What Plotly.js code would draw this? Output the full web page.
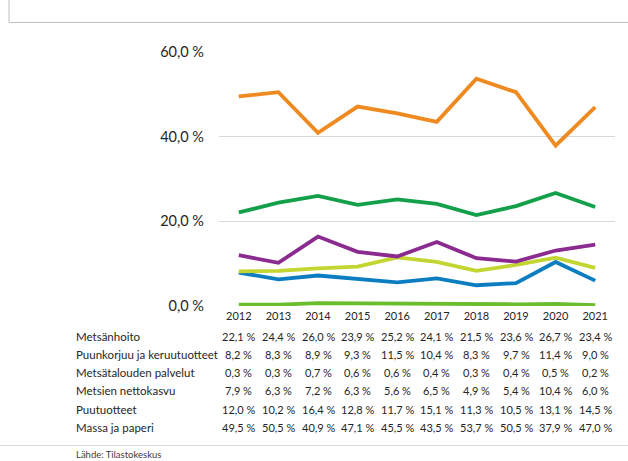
<!DOCTYPE html>
<html>
<head>
<meta charset="utf-8">
<script src="https://cdn.plot.ly/plotly-3.0.1.min.js"></script>
<style>
html,body{margin:0;padding:0;background:#fff;}
#chart{width:628px;height:461px;}
</style>
</head>
<body>
<div id="chart"></div>
<script>
// ---- data ----
var years = [2012,2013,2014,2015,2016,2017,2018,2019,2020,2021];
var yearLabels = ["2012","2013","2014","2015","2016","2017","2018","2019","2020","2021"];
var seriesNames = ["Metsänhoito","Puunkorjuu ja keruutuotteet","Metsätalouden palvelut","Metsien nettokasvu","Puutuotteet","Massa ja paperi"];
var metsanhoito = [22.1,24.4,26.0,23.9,25.2,24.1,21.5,23.6,26.7,23.4];
var puunkorjuu = [8.2,8.3,8.9,9.3,11.5,10.4,8.3,9.7,11.4,9.0];
var palvelut = [0.3,0.3,0.7,0.6,0.6,0.4,0.3,0.4,0.5,0.2];
var nettokasvu = [7.9,6.3,7.2,6.3,5.6,6.5,4.9,5.4,10.4,6.0];
var puutuotteet = [12.0,10.2,16.4,12.8,11.7,15.1,11.3,10.5,13.1,14.5];
var massa = [49.5,50.5,40.9,47.1,45.5,43.5,53.7,50.5,37.9,47.0];
var yTickVals = [0,20,40,60];
var yTickText = ["0,0 %","20,0 %","40,0 %","60,0 %"];
var sourceText = "Lähde: Tilastokeskus";

// ---- styling ----
var seriesValues = [metsanhoito,puunkorjuu,palvelut,nettokasvu,puutuotteet,massa];
var colors = ["#14A04A","#C3D530","#6ABE2E","#0C7DC1","#8B2A8F","#EE8A1F"];
var drawOrder = [2,3,1,4,0,5];

var W = 628, H = 461;
var L = 219, R = 13, T = 52, B = 155;
var plotW = W - L - R, plotH = H - T - B;
function px2paperX(px){ return (px - L) / plotW; }
function px2paperY(py){ return (H - B - py) / plotH; }
function fmt(v){ return v.toFixed(1).replace('.', ',') + ' %'; }

var traces = drawOrder.map(function(i){
  return {
    type:'scatter', mode:'lines', name: seriesNames[i],
    x: years, y: seriesValues[i],
    line:{color: colors[i], width:3.8},
    hoverinfo:'skip', cliponaxis:false
  };
});

var fontFam = 'Lato, "Open Sans", sans-serif';
var annotations = [];
var rowY = [336, 354.3, 372.6, 390.9, 409.2, 427.5];
seriesNames.forEach(function(name, r){
  annotations.push({
    xref:'paper', yref:'paper', x: px2paperX(74), y: px2paperY(rowY[r]),
    xanchor:'left', yanchor:'middle', text: name, showarrow:false,
    font:{family: fontFam, size: 11.5, color:'#262626'}
  });
  years.forEach(function(yr, c){
    annotations.push({
      xref:'x', yref:'paper', x: yr, y: px2paperY(rowY[r]),
      xanchor:'center', yanchor:'middle', text: fmt(seriesValues[r][c]), showarrow:false,
      font:{family: fontFam, size: 11, color:'#262626'}
    });
  });
});
annotations.push({
  xref:'paper', yref:'paper', x: px2paperX(74), y: px2paperY(447),
  xanchor:'left', yanchor:'top', text: sourceText, showarrow:false,
  font:{family: fontFam, size: 9.5, color:'#404040'}
});

var shapes = [
  {type:'line', xref:'paper', yref:'paper', x0: px2paperX(9), x1: px2paperX(628), y0: px2paperY(22.5), y1: px2paperY(22.5), line:{color:'#BFBFBF', width:1}},
  {type:'line', xref:'paper', yref:'paper', x0: px2paperX(9), x1: px2paperX(9), y0: px2paperY(0), y1: px2paperY(22.5), line:{color:'#BFBFBF', width:1}},
  {type:'line', xref:'paper', yref:'paper', x0: px2paperX(0), x1: px2paperX(628), y0: px2paperY(445.5), y1: px2paperY(445.5), line:{color:'#D9D9D9', width:1}}
];

var layout = {
  width: W, height: H,
  margin:{l:L, r:R, t:T, b:B, pad:0},
  paper_bgcolor:'#fff', plot_bgcolor:'#fff',
  showlegend:false, hovermode:false,
  xaxis:{
    type:'linear', range:[2011.5, 2021.5],
    tickvals: years, ticktext: yearLabels,
    showgrid:false, zeroline:false, showline:false, ticks:'',
    tickfont:{family: fontFam, size: 11, color:'#262626'},
    ticklabelstandoff: 2,
    fixedrange:true
  },
  yaxis:{
    range:[0,60], tickvals: yTickVals, ticktext: yTickText,
    showgrid:true, gridcolor:'#D9D9D9', gridwidth:1,
    zeroline:false, showline:false, ticks:'',
    tickfont:{family: fontFam, size: 14.5, color:'#262626'},
    ticklabelstandoff: 14,
    fixedrange:true
  },
  annotations: annotations,
  shapes: shapes
};

Plotly.newPlot('chart', traces, layout, {displayModeBar:false, staticPlot:true});
</script>
</body>
</html>
